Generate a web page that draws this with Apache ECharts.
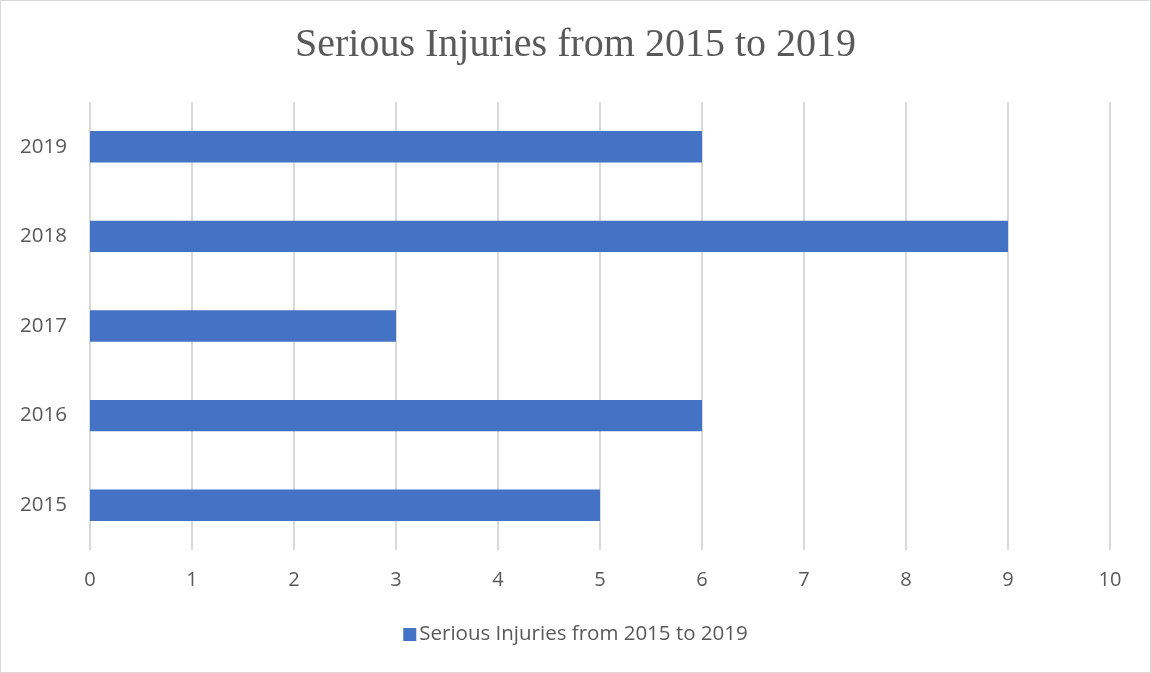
<!DOCTYPE html>
<html>
<head>
<meta charset="utf-8">
<script src="https://cdn.jsdelivr.net/npm/echarts@6/dist/echarts.min.js"></script>
<style>
  html, body { margin: 0; padding: 0; background: #fff; }
  #chart { width: 1151px; height: 673px; box-sizing: border-box; border: 1px solid #d9d9d9; }
</style>
</head>
<body>
<div id="chart"></div>
<script>
// Serious injuries per year
const years = ['2015', '2016', '2017', '2018', '2019'];
const injuries = [5, 6, 3, 9, 6];
const seriesName = 'Serious Injuries from 2015 to 2019';
const titleText = 'Serious Injuries from 2015 to 2019';

const chart = echarts.init(document.getElementById('chart'), null, { renderer: 'canvas' });
const labelFont = 'Open Sans, Noto Sans, Liberation Sans, sans-serif';

chart.setOption({
  animation: false,
  title: {
    text: titleText,
    left: 'center',
    top: 19,
    textStyle: {
      fontFamily: 'Liberation Serif, DejaVu Serif, serif',
      fontWeight: 'normal',
      fontSize: 40,
      color: '#595959'
    }
  },
  legend: {
    bottom: 22,
    left: 'center',
    itemWidth: 13,
    itemHeight: 13,
    icon: 'rect',
    itemGap: 6,
    textStyle: { fontFamily: labelFont, fontSize: 20.5, color: '#595959', padding: [0, 0, 0, -2] },
    data: [seriesName]
  },
  grid: { left: 89, right: 40, top: 101, bottom: 122, containLabel: false },
  xAxis: {
    type: 'value',
    min: 0,
    max: 10,
    interval: 1,
    axisLine: { show: false },
    axisTick: { show: false },
    axisLabel: { fontFamily: labelFont, fontSize: 20, color: '#595959', margin: 20 },
    splitLine: { show: true, lineStyle: { color: '#d9d9d9', width: 2 } }
  },
  yAxis: {
    type: 'category',
    data: years,
    axisLine: { show: false },
    axisTick: { show: false },
    axisLabel: { fontFamily: labelFont, fontSize: 20.5, color: '#595959', margin: 23 }
  },
  series: [{
    name: seriesName,
    type: 'bar',
    data: injuries,
    barCategoryGap: '65%',
    itemStyle: { color: '#4472C4' }
  }]
});
</script>
</body>
</html>
